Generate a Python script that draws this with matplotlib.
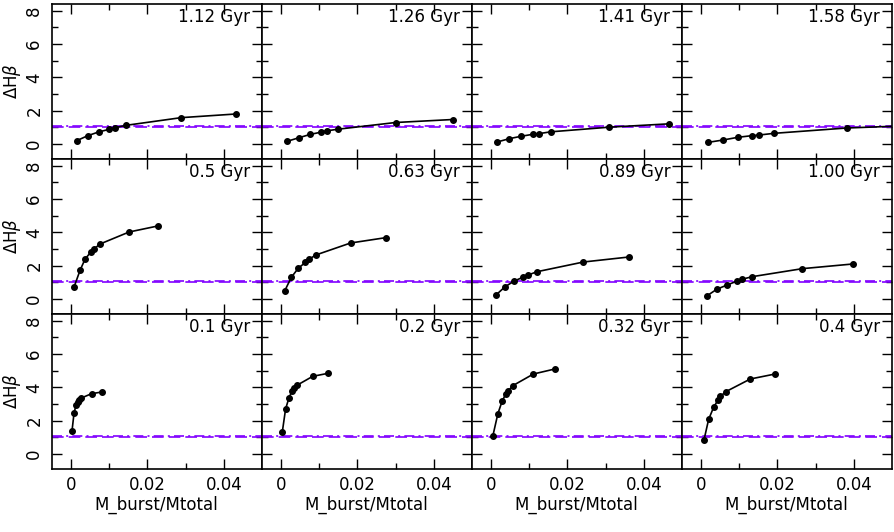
import matplotlib
matplotlib.use("Agg")
import matplotlib.pyplot as plt
from matplotlib.ticker import MultipleLocator, FixedLocator

plt.rcParams['font.family'] = ['DejaVu Sans']

# Panel age labels (rows top->bottom, cols left->right)
ages = [["1.12", "1.26", "1.41", "1.58"],
        ["0.5", "0.63", "0.89", "1.00"],
        ["0.1", "0.2", "0.32", "0.4"]]

# Burst mass fraction values per panel
x_112 = [0.0015, 0.0044, 0.0072, 0.0100, 0.0115, 0.0144, 0.0288, 0.0431]
y_112 = [0.20, 0.50, 0.72, 0.88, 0.98, 1.12, 1.58, 1.80]
x_126 = [0.0016, 0.0046, 0.0077, 0.0105, 0.0120, 0.0150, 0.0300, 0.0450]
y_126 = [0.16, 0.37, 0.58, 0.71, 0.79, 0.89, 1.29, 1.47]
x_141 = [0.0016, 0.0048, 0.0078, 0.0109, 0.0125, 0.0156, 0.0310, 0.0466]
y_141 = [0.12, 0.32, 0.46, 0.58, 0.62, 0.73, 1.01, 1.21]
x_158 = [0.0019, 0.0058, 0.0096, 0.0133, 0.0153, 0.0191, 0.0381, 0.0570]
y_158 = [0.10, 0.24, 0.40, 0.50, 0.54, 0.64, 0.96, 1.12]

x_050 = [0.0008, 0.0024, 0.0037, 0.0052, 0.0060, 0.0076, 0.0152, 0.0227]
y_050 = [0.72, 1.74, 2.40, 2.82, 3.00, 3.30, 4.02, 4.38]
x_063 = [0.0010, 0.0027, 0.0045, 0.0064, 0.0073, 0.0091, 0.0182, 0.0274]
y_063 = [0.50, 1.30, 1.84, 2.20, 2.38, 2.64, 3.36, 3.68]
x_089 = [0.0014, 0.0037, 0.0061, 0.0085, 0.0097, 0.0121, 0.0242, 0.0361]
y_089 = [0.26, 0.74, 1.08, 1.32, 1.44, 1.64, 2.22, 2.52]
x_100 = [0.0015, 0.0041, 0.0068, 0.0093, 0.0107, 0.0134, 0.0265, 0.0397]
y_100 = [0.18, 0.58, 0.84, 1.06, 1.18, 1.34, 1.82, 2.10]

x_010 = [0.00026, 0.0008, 0.0013, 0.0018, 0.0020, 0.0027, 0.0054, 0.0081]
y_010 = [1.38, 2.46, 2.92, 3.12, 3.22, 3.36, 3.62, 3.72]
x_020 = [0.00034, 0.0012, 0.0021, 0.0029, 0.0033, 0.0043, 0.0083, 0.0123]
y_020 = [1.32, 2.70, 3.38, 3.78, 3.94, 4.14, 4.66, 4.84]
x_032 = [0.0005, 0.0018, 0.0029, 0.0039, 0.0045, 0.0057, 0.0111, 0.0167]
y_032 = [1.10, 2.42, 3.16, 3.62, 3.78, 4.10, 4.80, 5.10]
x_040 = [0.0008, 0.0020, 0.0033, 0.0045, 0.0051, 0.0065, 0.0129, 0.0194]
y_040 = [0.86, 2.08, 2.80, 3.26, 3.46, 3.74, 4.50, 4.80]

xs = [[x_112, x_126, x_141, x_158],
      [x_050, x_063, x_089, x_100],
      [x_010, x_020, x_032, x_040]]
ys = [[y_112, y_126, y_141, y_158],
      [y_050, y_063, y_089, y_100],
      [y_010, y_020, y_032, y_040]]

ref_upper = 1.1   # dash-dot reference line
ref_lower = 1.0   # dashed reference line

xticks = [0, 0.02, 0.04]
xticklabels = ["0", "0.02", "0.04"]
yticks = [0, 2, 4, 6, 8]
yticklabels = ["0", "2", "4", "6", "8"]

W, H = 895, 532
fig = plt.figure(figsize=(W / 100, H / 100), dpi=100)
left, right = 51.7 / W, 891.7 / W
top, bottom = 1 - 4 / H, 1 - 469 / H
fig.subplots_adjust(left=left, right=right, top=top, bottom=bottom,
                    wspace=0, hspace=0)
axes = fig.subplots(3, 4, sharex=False, sharey=False)

purple = '#8000ff'
for r in range(3):
    for c in range(4):
        ax = axes[r][c]
        ax.set_xlim(-0.00505, 0.0499)
        ax.set_ylim(-0.9, 8.4)
        ax.axhline(ref_upper, color=purple, lw=1.2, ls=(0, (6, 2.5, 1.2, 2.5)))
        ax.axhline(ref_lower, color=purple, lw=1.2, ls=(0, (7, 3)))
        ax.plot(xs[r][c], ys[r][c], color='black', lw=1.2, marker='o',
                ms=4, clip_on=True)
        ax.text(0.945, 0.975, ages[r][c] + " Gyr", transform=ax.transAxes,
                ha='right', va='top', fontsize=12)
        ax.xaxis.set_major_locator(FixedLocator(xticks))
        ax.xaxis.set_minor_locator(FixedLocator([0.01, 0.03]))
        ax.yaxis.set_major_locator(FixedLocator(yticks))
        ax.yaxis.set_minor_locator(MultipleLocator(1))
        ax.tick_params(which='both', direction='in', top=True, right=True,
                       width=1.0, colors='black')
        ax.tick_params(which='major', length=7)
        ax.tick_params(which='minor', length=4)
        for sp in ax.spines.values():
            sp.set_linewidth(1.2)
        if r == 2:
            ax.set_xticks(xticks)
            ax.set_xticklabels(xticklabels, fontsize=12)
            ax.tick_params(axis='x', pad=5)
        else:
            ax.set_xticklabels([])
        if c == 0:
            ax.set_yticks(yticks)
            ax.set_yticklabels(yticklabels, fontsize=12, rotation=90,
                               va='center')
            ax.tick_params(axis='y', pad=6)
        else:
            ax.set_yticklabels([])

for r in range(3):
    cy = 1 - (4 + 77.5 + 155 * r) / H
    fig.text(12 / W, cy, "ΔH$\\beta$", rotation=90, ha='center',
             va='center', fontsize=12)

for c in range(4):
    cx = (51.7 + 105 + 210 * c) / W
    fig.text(cx, 1 - 505 / H, "M_burst/Mtotal", ha='center', va='center',
             fontsize=12)

fig.savefig("out.png", dpi=100)
